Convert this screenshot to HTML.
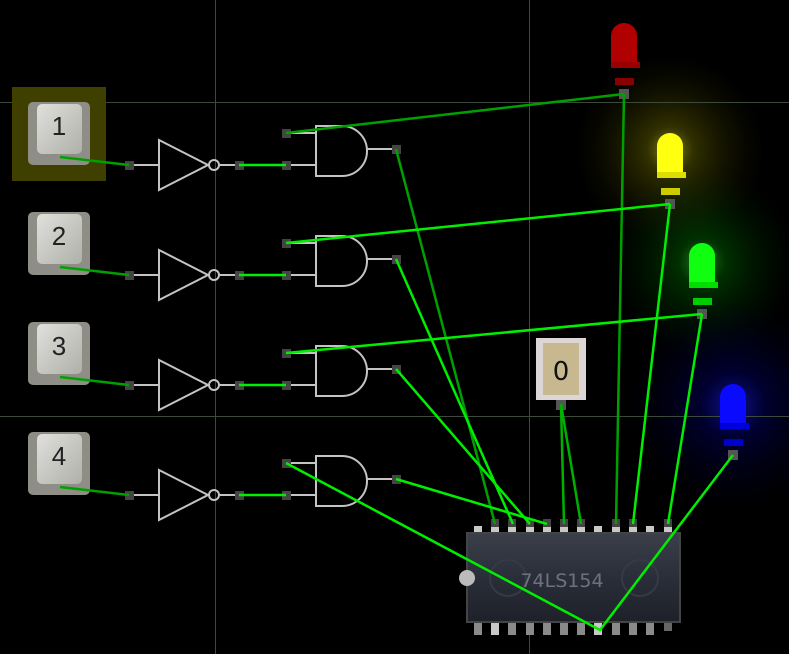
<!DOCTYPE html>
<html><head><meta charset="utf-8"><style>
html,body{margin:0;padding:0;background:#000;width:789px;height:654px;overflow:hidden}
svg{display:block}
</style></head><body>
<svg width="789" height="654" viewBox="0 0 789 654" xmlns="http://www.w3.org/2000/svg">
<defs>
<radialGradient id="gy" cx="0.5" cy="0.5" r="0.5"><stop offset="0" stop-color="#ffff40" stop-opacity="0.55"/><stop offset="0.25" stop-color="#888800" stop-opacity="0.35"/><stop offset="1" stop-color="#333300" stop-opacity="0"/></radialGradient>
<radialGradient id="gg" cx="0.5" cy="0.5" r="0.5"><stop offset="0" stop-color="#40ff40" stop-opacity="0.55"/><stop offset="0.25" stop-color="#008800" stop-opacity="0.35"/><stop offset="1" stop-color="#003300" stop-opacity="0"/></radialGradient>
<radialGradient id="gb" cx="0.5" cy="0.5" r="0.5"><stop offset="0" stop-color="#2020ff" stop-opacity="0.6"/><stop offset="0.3" stop-color="#000088" stop-opacity="0.35"/><stop offset="1" stop-color="#000022" stop-opacity="0"/></radialGradient>
<linearGradient id="chip" x1="0" y1="0" x2="0" y2="1"><stop offset="0" stop-color="#3a3f4a"/><stop offset="0.5" stop-color="#2a2e38"/><stop offset="1" stop-color="#1e2129"/></linearGradient>
<linearGradient id="key" x1="0" y1="0" x2="1" y2="1"><stop offset="0" stop-color="#e0e0dc"/><stop offset="1" stop-color="#b0b0aa"/></linearGradient>
</defs>
<circle cx="670" cy="150" r="95" fill="url(#gy)"/>
<circle cx="702" cy="262" r="95" fill="url(#gg)"/>
<circle cx="733" cy="405" r="110" fill="url(#gb)"/>
<g stroke="#3c4a3c" stroke-width="1">
<line x1="215.5" y1="0" x2="215.5" y2="654"/><line x1="529.5" y1="0" x2="529.5" y2="654"/>
<line x1="0" y1="102.5" x2="789" y2="102.5"/><line x1="0" y1="416.5" x2="789" y2="416.5"/>
</g>
<rect x="12" y="87" width="94" height="94" fill="#3f3f00"/>

<g font-family="Liberation Sans, DejaVu Sans, sans-serif" font-size="26" fill="#222" text-anchor="middle">
<g><rect x="28" y="102" width="62" height="63" rx="5" fill="#8e8e86"/><rect x="37" y="104" width="45" height="50" rx="5" fill="url(#key)"/><text x="59" y="135">1</text></g>
<g transform="translate(0,110)"><rect x="28" y="102" width="62" height="63" rx="5" fill="#8e8e86"/><rect x="37" y="104" width="45" height="50" rx="5" fill="url(#key)"/><text x="59" y="135">2</text></g>
<g transform="translate(0,220)"><rect x="28" y="102" width="62" height="63" rx="5" fill="#8e8e86"/><rect x="37" y="104" width="45" height="50" rx="5" fill="url(#key)"/><text x="59" y="135">3</text></g>
<g transform="translate(0,330)"><rect x="28" y="102" width="62" height="63" rx="5" fill="#8e8e86"/><rect x="37" y="104" width="45" height="50" rx="5" fill="url(#key)"/><text x="59" y="135">4</text></g>
</g>

<g id="row">
<g stroke="#c4c4c4" stroke-width="2" fill="none">
<line x1="129" y1="165" x2="159" y2="165"/>
<path d="M159,140 L208,165 L159,190 Z"/>
<circle cx="214" cy="165" r="5"/>
<line x1="219" y1="165" x2="239" y2="165"/>
<line x1="286" y1="133" x2="316" y2="133"/>
<line x1="286" y1="165" x2="316" y2="165"/>
<path d="M316,126 L342,126 A25,25 0 0 1 342,176 L316,176 Z"/>
<line x1="367" y1="149" x2="396" y2="149"/>
</g>
<g fill="#444"><rect x="125" y="161" width="9" height="9"/><rect x="235" y="161" width="9" height="9"/><rect x="282" y="161" width="9" height="9"/><rect x="282" y="129" width="9" height="9"/><rect x="392" y="145" width="9" height="9"/></g>
<line x1="239" y1="165" x2="286" y2="165" stroke="#00ee00" stroke-width="2.5"/>
<line x1="60" y1="157" x2="129" y2="165" stroke="#00a000" stroke-width="2.5"/>
</g>
<use href="#row" transform="translate(0,110)"/>
<use href="#row" transform="translate(0,220)"/>
<use href="#row" transform="translate(0,330)"/>

<g fill="#c8c8c8">
<rect x="474" y="526" width="8" height="7"/><rect x="491" y="526" width="8" height="7"/><rect x="508" y="526" width="8" height="7"/><rect x="526" y="526" width="8" height="7"/><rect x="543" y="526" width="8" height="7"/><rect x="560" y="526" width="8" height="7"/><rect x="577" y="526" width="8" height="7"/><rect x="594" y="526" width="8" height="7"/><rect x="612" y="526" width="8" height="7"/><rect x="629" y="526" width="8" height="7"/><rect x="646" y="526" width="8" height="7"/><rect x="664" y="526" width="8" height="7"/>
<rect x="474" y="623" width="8" height="12" fill="#8a8a8a"/><rect x="491" y="623" width="8" height="12"/><rect x="508" y="623" width="8" height="12" fill="#8a8a8a"/><rect x="526" y="623" width="8" height="12" fill="#8a8a8a"/><rect x="543" y="623" width="8" height="12" fill="#8a8a8a"/><rect x="560" y="623" width="8" height="12" fill="#8a8a8a"/><rect x="577" y="623" width="8" height="12" fill="#8a8a8a"/><rect x="594" y="623" width="8" height="12"/><rect x="612" y="623" width="8" height="12" fill="#8a8a8a"/><rect x="629" y="623" width="8" height="12" fill="#8a8a8a"/><rect x="646" y="623" width="8" height="12" fill="#8a8a8a"/><rect x="664" y="623" width="8" height="8" fill="#666"/>
</g>
<rect x="467" y="533" width="213" height="89" fill="url(#chip)" stroke="#444" stroke-width="2"/>
<circle cx="467" cy="578" r="8" fill="#bbb"/>
<circle cx="508" cy="578" r="18" fill="none" stroke="#353a44" stroke-width="2"/>
<circle cx="640" cy="578" r="18" fill="none" stroke="#353a44" stroke-width="2"/>
<text x="562" y="587" font-family="DejaVu Sans, Liberation Sans, sans-serif" font-size="19" fill="#6d7280" text-anchor="middle">74LS154</text>

<rect x="536" y="338" width="50" height="62" fill="#ddd6d6"/>
<rect x="543" y="343" width="36" height="52" fill="#c8b890"/>
<text x="561" y="380" font-family="DejaVu Sans, Liberation Sans, sans-serif" font-size="26" fill="#111" text-anchor="middle">0</text>
<rect x="556" y="400" width="10" height="10" fill="#555"/>

<g transform="translate(624,94)">
<path d="M-13,-32 L-13,-58 A13,13 0 0 1 13,-58 L13,-32 Z" fill="#b00000"/><rect x="-13" y="-32" width="29" height="6" fill="#900"/><rect x="-9" y="-16" width="19" height="7" fill="#800"/>
</g>
<g transform="translate(670,204)">
<path d="M-13,-32 L-13,-58 A13,13 0 0 1 13,-58 L13,-32 Z" fill="#ffff10"/><rect x="-13" y="-32" width="29" height="6" fill="#dddd00"/><rect x="-9" y="-16" width="19" height="7" fill="#cccc00"/>
</g>
<g transform="translate(702,314)">
<path d="M-13,-32 L-13,-58 A13,13 0 0 1 13,-58 L13,-32 Z" fill="#10ff10"/><rect x="-13" y="-32" width="29" height="6" fill="#00dd00"/><rect x="-9" y="-16" width="19" height="7" fill="#00cc00"/>
</g>
<g transform="translate(733,455)">
<path d="M-13,-32 L-13,-58 A13,13 0 0 1 13,-58 L13,-32 Z" fill="#0a0aff"/><rect x="-13" y="-32" width="29" height="6" fill="#0000dd"/><rect x="-9" y="-16" width="19" height="7" fill="#0000cc"/>
</g>
<g fill="#555"><rect x="619" y="89" width="10" height="10"/><rect x="665" y="199" width="10" height="10"/><rect x="697" y="309" width="10" height="10"/><rect x="728" y="450" width="10" height="10"/></g>
<g fill="#444"><rect x="491" y="519" width="8" height="8"/><rect x="508" y="519" width="8" height="8"/><rect x="526" y="519" width="8" height="8"/><rect x="543" y="519" width="8" height="8"/><rect x="560" y="519" width="8" height="8"/><rect x="577" y="519" width="8" height="8"/><rect x="612" y="519" width="8" height="8"/><rect x="629" y="519" width="8" height="8"/><rect x="664" y="519" width="8" height="8"/></g>

<g stroke-width="2.5" fill="none">
<line x1="286" y1="133" x2="624" y2="94" stroke="#00a000"/>
<line x1="396" y1="149" x2="495" y2="524" stroke="#00a000"/>
<line x1="624" y1="94" x2="616" y2="524" stroke="#00a000"/>
<line x1="561" y1="404" x2="564" y2="524" stroke="#00b000"/>
<line x1="561" y1="404" x2="581" y2="524" stroke="#00b000"/>
<g stroke="#00ee00">
<line x1="286" y1="243" x2="670" y2="204"/>
<line x1="286" y1="353" x2="702" y2="314"/>
<line x1="396" y1="259" x2="513" y2="524"/>
<line x1="396" y1="369" x2="530" y2="524"/>
<line x1="396" y1="479" x2="547" y2="524"/>
<line x1="670" y1="204" x2="633" y2="524"/>
<line x1="702" y1="314" x2="668" y2="524"/>
<polyline points="286,463 600,630 733,455"/>
</g>
</g>
</svg>
</body></html>
